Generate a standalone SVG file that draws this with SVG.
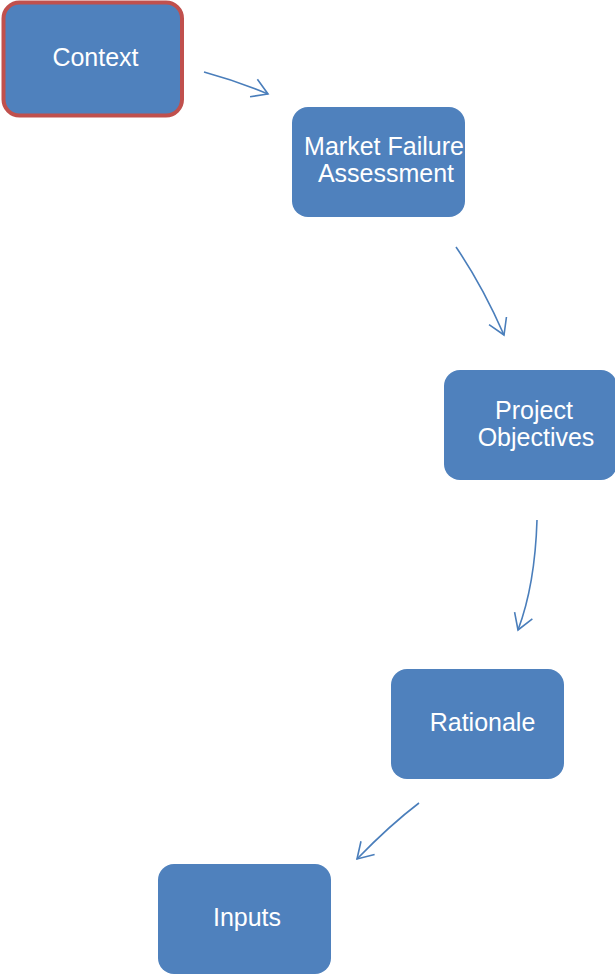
<svg xmlns="http://www.w3.org/2000/svg" width="615" height="975" viewBox="0 0 615 975">
<style>
.box{fill:#4F81BD;}
.lbl{fill:#FFFFFF;font-family:"Liberation Sans",Arial,sans-serif;font-size:25px;text-anchor:middle;}
.conn{fill:none;stroke:#4A7EBB;stroke-width:1.6;marker-end:url(#ah);}
</style>
<defs>
<marker id="ah" markerUnits="userSpaceOnUse" viewBox="-18 -11 20 22" refX="0" refY="0" markerWidth="20" markerHeight="22" orient="auto">
<path d="M-15.5,-9.5 L0,0 L-15.5,9.5" fill="none" stroke="#4A7EBB" stroke-width="1.6"/>
</marker>
</defs>
<rect width="615" height="975" fill="#FFFFFF"/>
<g id="connectors">
<path class="conn" d="M204,72 Q237,81 268,94"/>
<path class="conn" d="M456,247 Q482,285 504,335"/>
<path class="conn" d="M537,520 Q535,585 518,630"/>
<path class="conn" d="M419,803 Q390,825 357,859"/>
</g>
<g id="context">
<rect class="box" x="3.5" y="2.5" width="178.5" height="113" rx="16" stroke="#C0504D" stroke-width="4"/>
<text class="lbl" x="95.5" y="66">Context</text>
</g>
<g id="market-failure">
<rect class="box" x="292" y="107" width="173" height="110" rx="16"/>
<text class="lbl" x="384" y="155">Market Failure</text>
<text class="lbl" x="386" y="182">Assessment</text>
</g>
<g id="project-objectives">
<rect class="box" x="444" y="370" width="173" height="110" rx="16"/>
<text class="lbl" x="534" y="419">Project</text>
<text class="lbl" x="536" y="446">Objectives</text>
</g>
<g id="rationale">
<rect class="box" x="391" y="669" width="173" height="110" rx="16"/>
<text class="lbl" x="482.5" y="731">Rationale</text>
</g>
<g id="inputs">
<rect class="box" x="158" y="864" width="173" height="110" rx="16"/>
<text class="lbl" x="247" y="926">Inputs</text>
</g>
</svg>
